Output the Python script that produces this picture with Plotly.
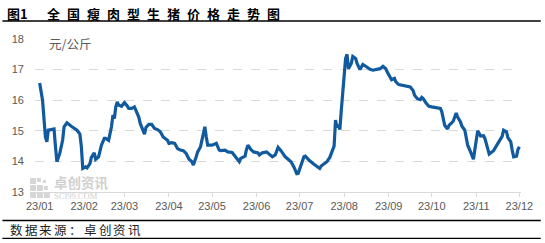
import pandas as pd
import plotly.graph_objects as go

# day offsets from 2023-01-01 and price (元/公斤)
days = [0, 2, 3, 4, 5, 6, 8, 10, 11, 12, 14, 16, 17, 19, 22, 26, 28, 29, 30, 32, 33, 35, 36, 38, 39, 41,
        43, 45, 46, 48, 50, 51, 52, 53, 54, 55, 57, 59, 61, 62, 64, 66, 67, 69, 70, 72, 73, 74, 76, 78,
        80, 82, 84, 86, 89, 90, 92, 94, 96, 98, 100, 102, 104, 106, 107, 109, 110, 112, 113, 114, 115,
        116, 117, 120, 122, 123, 125, 126, 129, 131, 134, 137, 139, 140, 143, 144, 145, 147, 149, 152,
        153, 155, 158, 160, 162, 164, 166, 168, 171, 173, 175, 177, 178, 179, 180, 182, 184, 185, 186,
        188, 191, 193, 195, 196, 198, 200, 202, 203, 205, 206, 207, 208, 209, 210, 211, 212, 213, 214,
        215, 217, 218, 220, 221, 223, 225, 227, 230, 232, 234, 237, 239, 241, 242, 244, 245, 247, 248,
        250, 253, 256, 258, 260, 261, 263, 265, 266, 267, 269, 271, 273, 277, 279, 280, 281, 282, 284,
        285, 287, 288, 290, 291, 293, 294, 296, 297, 298, 300, 301, 302, 303, 304, 305, 307, 309, 310,
        312, 313, 316, 318, 320, 322, 323, 325, 326, 328, 329, 330, 332, 333, 334]
prices = [16.56, 16.0, 15.4, 14.8, 14.64, 15.02, 15.04, 15.06, 14.48, 13.99, 14.26, 14.7, 15.13, 15.26,
          15.15, 15.02, 14.89, 14.5, 13.77, 13.82, 13.79, 13.93, 14.13, 14.28, 14.07, 14.15,
          14.53, 14.75, 14.75, 14.69, 15.13, 15.51, 15.4, 15.78, 15.94, 15.84, 15.8, 15.92, 15.81, 15.73,
          15.73, 15.78, 15.67, 15.45, 15.24, 15.02, 14.89, 15.11, 15.21, 15.21,
          15.08, 15.04, 14.97, 14.8, 14.69, 14.59, 14.61, 14.59, 14.42, 14.37, 14.35, 14.26, 14.07, 13.99,
          13.88, 14.15, 14.31, 14.48, 14.69, 14.91, 15.13,
          14.8, 14.53, 14.53, 14.56, 14.59, 14.37, 14.35, 14.37, 14.31, 14.29, 14.1, 13.99, 14.1, 14.17,
          14.39, 14.53, 14.39, 14.31, 14.28,
          14.21, 14.28, 14.31, 14.23, 14.15, 14.21, 14.46, 14.35, 14.15, 14.07, 13.99, 13.82, 13.72, 13.6,
          13.61, 13.88, 14.15, 14.17, 14.12,
          14.02, 13.91, 13.85, 13.77, 13.85, 13.93, 13.99, 14.13, 14.26, 14.5, 15.35, 15.11, 15.2, 15.04,
          15.67, 16.32, 16.87, 17.36, 17.5,
          17.03, 17.21, 17.43, 17.36, 17.2, 17.0, 17.17, 17.11, 17.01, 16.98, 17.0, 17.03, 17.11, 17.03,
          16.92, 16.78, 16.67, 16.71, 16.6,
          16.51, 16.49, 16.47, 16.43, 16.32, 16.16, 16.05, 16.02, 16.09, 16.05, 15.91, 15.8, 15.78, 15.76,
          15.73, 15.62, 15.4, 15.18, 15.06,
          15.18, 15.27, 15.32, 15.58, 15.45, 15.29, 15.15, 15.02, 14.8, 14.53, 14.31, 14.17, 14.07, 14.39,
          14.8, 15.0, 14.83, 14.84, 14.75,
          14.42, 14.24, 14.35, 14.5, 14.64, 14.82, 15.02, 14.97, 14.78, 14.64, 14.37, 14.15, 14.17, 14.39,
          14.48]

tick_dates = ["2023-%02d-01" % m for m in range(1, 13)]
tick_labels = ["23/%02d" % m for m in range(1, 13)]
y_ticks = [13, 14, 15, 16, 17, 18]

title_head = "图1"
title_chars = "全国瘦肉型生猪价格走势图"
source_chars = "数据来源：卓创资讯"
unit_text = "元/公斤"

dates = pd.Timestamp("2023-01-01") + pd.to_timedelta(days, unit="D")

W, H = 545, 243
L, R, T, B = 33, 20, 38.5, 51
PW, PH = W - L - R, H - T - B


def px(x):
    return (x - L) / PW


def py(y):
    return (H - B - y) / PH


fig = go.Figure()
fig.add_trace(go.Scatter(x=dates, y=prices, mode="lines",
                         line=dict(color="#115a9e", width=3.2), hoverinfo="skip"))

ann = []
ann.append(dict(x=px(3), y=py(13), text="<b>" + title_head + "</b>", xanchor="left", yanchor="middle",
                showarrow=False, xref="paper", yref="paper",
                font=dict(family="Noto Sans CJK SC", size=13, color="#000000")))
for i, c in enumerate(title_chars):
    ann.append(dict(x=px(51.5 + i * 20.3), y=py(13), text="<b>" + c + "</b>", xanchor="center",
                    yanchor="middle", showarrow=False, xref="paper", yref="paper",
                    font=dict(family="Noto Sans CJK SC", size=13, color="#000000")))
for i, c in enumerate(source_chars):
    ann.append(dict(x=px(14 + i * 15), y=py(230), text=c, xanchor="center", yanchor="middle",
                    showarrow=False, xref="paper", yref="paper",
                    font=dict(family="Noto Sans CJK SC", size=12.5, color="#222222")))
ann.append(dict(x=px(45), y=py(43), text=unit_text, xanchor="left", yanchor="middle", showarrow=False,
                xref="paper", yref="paper",
                font=dict(family="Noto Sans CJK SC", size=12.5, color="#595959")))
# watermark
ann.append(dict(x=px(50), y=py(182), text="<b>卓创资讯</b>", xanchor="left", yanchor="middle", showarrow=False,
                xref="paper", yref="paper",
                font=dict(family="Noto Sans CJK SC", size=13.5, color="#d0d0d0")))
ann.append(dict(x=px(50), y=py(196), text="SCI99.COM", xanchor="left", yanchor="middle", showarrow=False,
                xref="paper", yref="paper",
                font=dict(family="Liberation Serif", size=8.5, color="#d0d0d0")))

shapes = []
for y0, w in [(20.5, 1.5), (220.5, 1.5), (238.5, 1.2)]:
    shapes.append(dict(type="line", xref="paper", yref="paper", x0=px(0), x1=px(545), y0=py(y0), y1=py(y0),
                       line=dict(color="#000000", width=w)))
# watermark logo squares
for (sx, sy, s) in [(28, 178, 6), (35, 178, 4), (41, 180, 3), (28, 185, 6), (35, 185, 6),
                    (28, 192, 6), (35, 192, 6), (42, 192, 6), (42, 186, 4)]:
    shapes.append(dict(type="rect", xref="paper", yref="paper", x0=px(sx), x1=px(sx + s),
                       y0=py(sy), y1=py(sy + s), line=dict(width=0), fillcolor="#d6d6d6", layer="below"))

fig.update_layout(
    width=W, height=H,
    margin=dict(l=L, r=R, t=T, b=B),
    paper_bgcolor="white", plot_bgcolor="white",
    showlegend=False,
    annotations=ann, shapes=shapes,
    font=dict(family="Liberation Sans", size=11, color="#595959"),
)
fig.update_xaxes(type="date", range=["2022-12-28 18:00", "2023-12-02 03:00"],
                 tickvals=tick_dates, ticktext=tick_labels,
                 showgrid=False, showline=True, linecolor="#d9d9d9", linewidth=1,
                 ticks="outside", ticklen=4, tickcolor="#d9d9d9",
                 tickfont=dict(family="Liberation Sans", size=11, color="#595959"))
fig.update_yaxes(range=[13, 18], tickvals=y_ticks, showgrid=True, gridcolor="#d9d9d9",
                 griddash="dash", gridwidth=1, zeroline=False, showline=False,
                 ticklabelstandoff=10,
                 tickfont=dict(family="Liberation Sans", size=11, color="#595959"))

fig.write_html("out.html")
